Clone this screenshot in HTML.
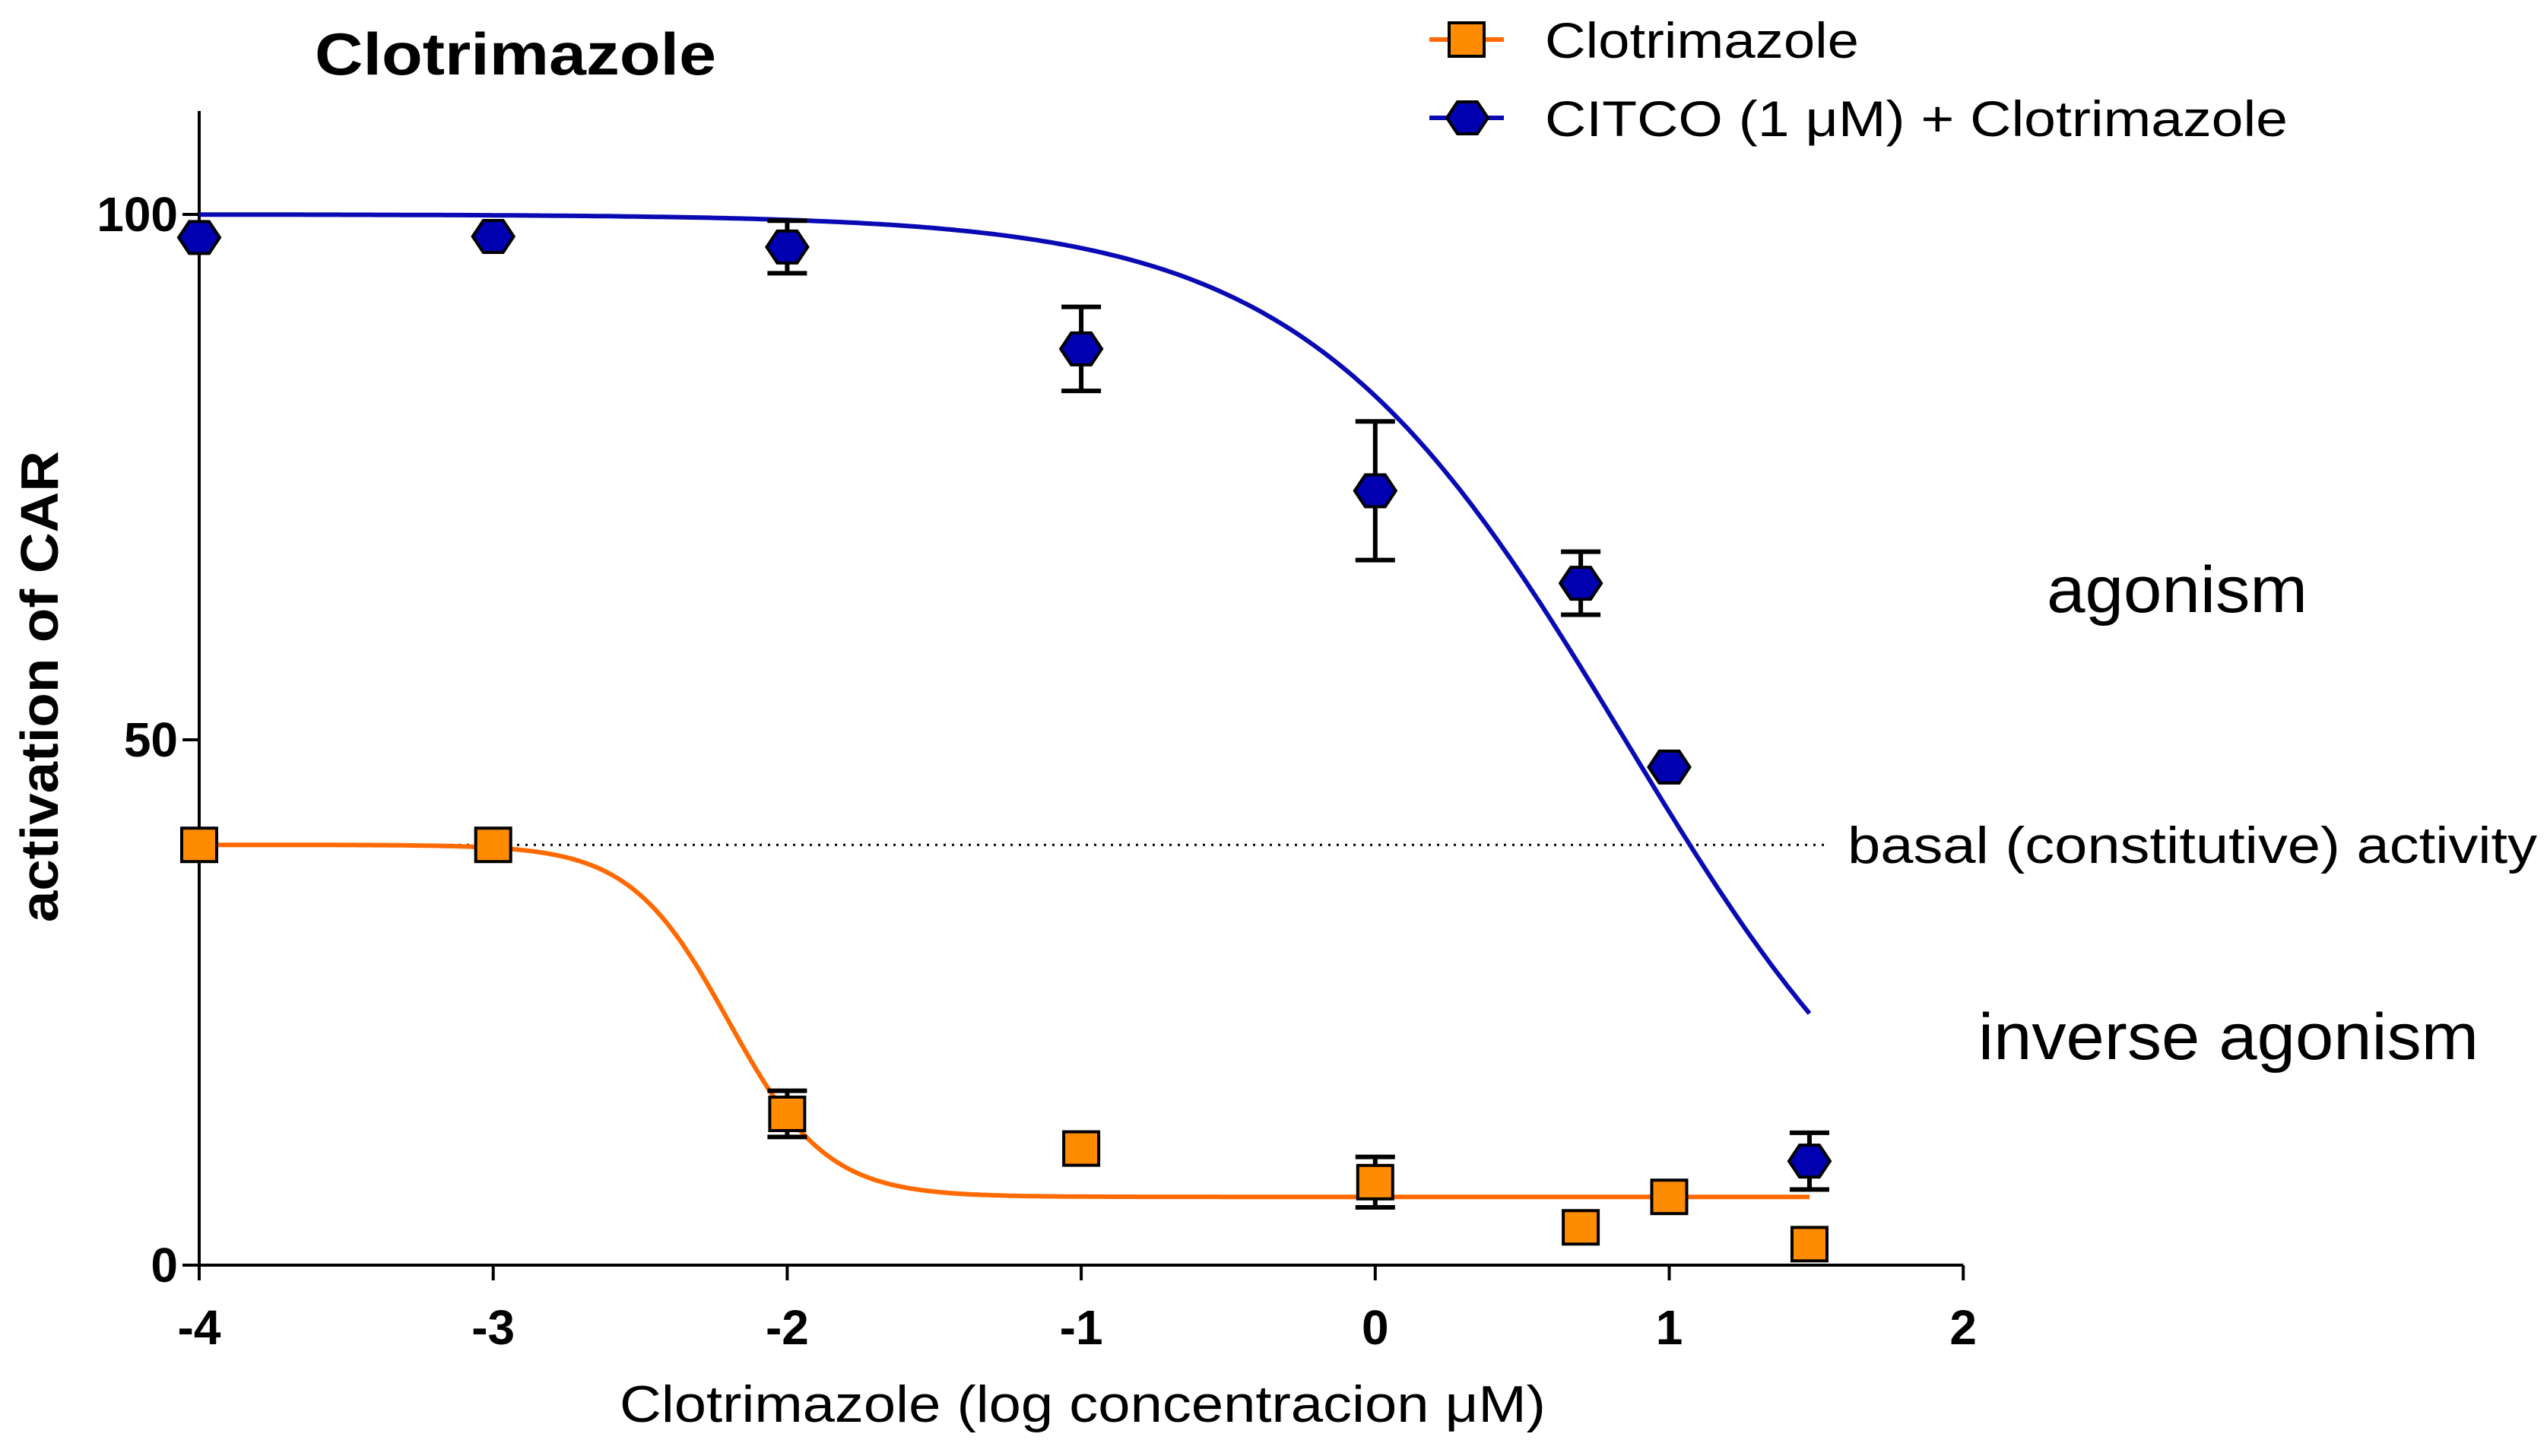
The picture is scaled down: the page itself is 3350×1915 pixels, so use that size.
<!DOCTYPE html>
<html><head><meta charset="utf-8">
<style>
html,body{margin:0;padding:0;background:#fff;}
svg{display:block;font-family:"Liberation Sans",Arial,sans-serif;}
</style></head>
<body>
<svg id="chart" width="3350" height="1915" viewBox="0 0 3350 1915" xmlns="http://www.w3.org/2000/svg">
  <text x="414" y="98" font-size="78" font-weight="bold" textLength="528" lengthAdjust="spacingAndGlyphs">Clotrimazole</text>
  <g id="axes"></g>
  <g id="plot"></g>
  <text transform="translate(76,903) rotate(-90)" font-size="70" font-weight="bold" text-anchor="middle" textLength="620" lengthAdjust="spacingAndGlyphs">activation of CAR</text>
  <text x="815" y="1870" font-size="68" textLength="1218" lengthAdjust="spacingAndGlyphs">Clotrimazole (log concentracion μM)</text>
  <text x="2692" y="805" font-size="86" textLength="343" lengthAdjust="spacingAndGlyphs">agonism</text>
  <text x="2430" y="1135" font-size="68" textLength="907" lengthAdjust="spacingAndGlyphs">basal (constitutive) activity</text>
  <text x="2602" y="1393" font-size="86" textLength="658" lengthAdjust="spacingAndGlyphs">inverse agonism</text>
  <g>
    <g>
      <line x1="1880" y1="52" x2="1978" y2="52" stroke="#ff6a00" stroke-width="6"/>
      <rect x="1906" y="30" width="46" height="44" fill="#ff8c00" stroke="#000" stroke-width="4"/>
      <text x="2032" y="76" font-size="66" textLength="413" lengthAdjust="spacingAndGlyphs">Clotrimazole</text>
    </g>
    <g>
      <line x1="1880" y1="155" x2="1978" y2="155" stroke="#0a0ab4" stroke-width="6"/>
      <polygon points="1903,155 1917,134 1943,134 1957,155 1943,176 1917,176" fill="#0000b0" stroke="#000" stroke-width="4"/>
      <text x="2032" y="179" font-size="66" textLength="977" lengthAdjust="spacingAndGlyphs">CITCO (1 μM) + Clotrimazole</text>
    </g>
  </g>
</svg>
<script>
const xTicks = [-4,-3,-2,-1,0,1,2];
const yTicks = [0,50,100];
const concentrations = [-4,-3,-2,-1,0,0.699,1,1.477];
const clotrimazoleValues = [40,40,14.4,11.1,7.9,3.6,6.5,2];
const clotrimazoleErrors = [0,0,2.2,0,2.4,0,0,0];
const citcoValues = [97.8,97.9,96.9,87.2,73.7,64.9,47.4,9.9];
const citcoErrors = [0,0,2.5,4,6.6,3,0,2.7];
const clotrimazoleFit = {top:40,bottom:6.5,logIC50:-2.2,hill:2.6};
const citcoFit = {top:100,bottom:0,logIC50:0.85,hill:0.8};
const basalLevel = 40;
const curveRange = [-4,1.477];

const NS="http://www.w3.org/2000/svg";
const X0=262, XU=386.7, Y0=1664, YU=13.82;
const sx=v=>X0+(v+4)*XU;
const sy=v=>Y0-v*YU;
function mk(tag,attrs,parent){const e=document.createElementNS(NS,tag);for(const k in attrs)e.setAttribute(k,attrs[k]);parent.appendChild(e);return e;}
const axes=document.getElementById('axes');
const plot=document.getElementById('plot');

let a=mk('line',{x1:sx(-4),y1:Y0,x2:sx(2),y2:Y0,stroke:'#000','stroke-width':4},axes);


a=mk('line',{x1:sx(-4),y1:146,x2:sx(-4),y2:Y0,stroke:'#000','stroke-width':4},axes);


xTicks.forEach(t=>{
  const l=mk('line',{x1:sx(t),y1:Y0,x2:sx(t),y2:Y0+20,stroke:'#000','stroke-width':4},axes);
  
  
  const tx=mk('text',{x:sx(t),y:Y0+104,'font-size':64,'font-weight':'bold','text-anchor':'middle'},axes);
  tx.textContent=String(t);
  
  
});
yTicks.forEach(t=>{
  const l=mk('line',{x1:X0-22,y1:sy(t),x2:X0,y2:sy(t),stroke:'#000','stroke-width':4},axes);
  
  
  const tx=mk('text',{x:X0-28,y:sy(t)+22,'font-size':64,'font-weight':'bold','text-anchor':'end'},axes);
  tx.textContent=String(t);
  
  
});
const basal=mk('line',{x1:sx(-4),y1:sy(basalLevel),x2:2400,y2:sy(basalLevel),stroke:'#000','stroke-width':3,'stroke-dasharray':'3 8'},plot);



function curve(f){let d='';const a0=curveRange[0],a1=curveRange[1];for(let i=0;i<=300;i++){const x=a0+(a1-a0)*i/300;const y=f.bottom+(f.top-f.bottom)/(1+Math.pow(10,f.hill*(x-f.logIC50)));d+=(i?'L':'M')+sx(x).toFixed(1)+','+sy(y).toFixed(1);}return d;}
let c=mk('path',{d:curve(clotrimazoleFit),fill:'none',stroke:'#ff6a00','stroke-width':6},plot);


c=mk('path',{d:curve(citcoFit),fill:'none',stroke:'#0a0ab4','stroke-width':6},plot);



function errbar(x,v,e,name){
  if(!e)return;
  const g=mk('g',{stroke:'#000','stroke-width':6},plot);
  
  
  const X=sx(x),t=sy(v+e),b=sy(v-e);
  mk('line',{x1:X,y1:t,x2:X,y2:b},g);
  mk('line',{x1:X-26,y1:t,x2:X+26,y2:t},g);
  mk('line',{x1:X-26,y1:b,x2:X+26,y2:b},g);
}
concentrations.forEach((x,i)=>{
  errbar(x,citcoValues[i],citcoErrors[i],'citco-error-bar');
  errbar(x,clotrimazoleValues[i],clotrimazoleErrors[i],'clotrimazole-error-bar');
});
concentrations.forEach((x,i)=>{
  const X=sx(x),Y=sy(clotrimazoleValues[i]);
  const r=mk('rect',{x:X-23,y:Y-22,width:46,height:44,fill:'#ff8c00',stroke:'#000','stroke-width':4},plot);
  
  
});
concentrations.forEach((x,i)=>{
  const X=sx(x),Y=sy(citcoValues[i]);
  const pts=[[X-27,Y],[X-13,Y-21],[X+13,Y-21],[X+27,Y],[X+13,Y+21],[X-13,Y+21]].map(p=>p.join(',')).join(' ');
  const h=mk('polygon',{points:pts,fill:'#0000b0',stroke:'#000','stroke-width':4},plot);
  
  
});
</script>
</body></html>
